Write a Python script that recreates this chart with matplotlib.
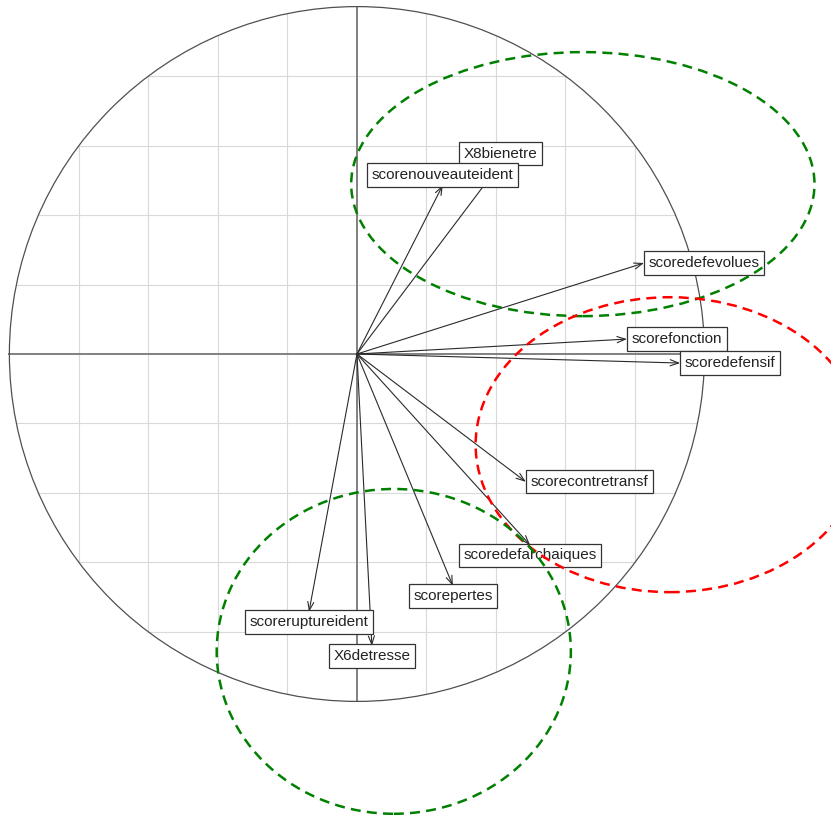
import numpy as np
import matplotlib
matplotlib.use("Agg")
import matplotlib.pyplot as plt
from matplotlib.patches import Ellipse, Circle

# Variable loadings (correlation circle coordinates)
var_names = ["scoredefevolues", "scorefonction", "scoredefensif", "scorecontretransf",
             "scoredefarchaiques", "scorepertes", "X6detresse", "scoreruptureident",
             "X8bienetre", "scorenouveauteident"]
var_x = [0.826, 0.777, 0.930, 0.486, 0.498, 0.276, 0.043, -0.138, 0.412, 0.247]
var_y = [0.262, 0.043, -0.026, -0.368, -0.550, -0.667, -0.840, -0.742, 0.547, 0.486]

# Highlighted groups (dashed ellipses)
ell_cx = [0.650, 0.900, 0.106]
ell_cy = [0.489, -0.261, -0.856]
ell_w = [1.333, 1.117, 1.019]
ell_h = [0.760, 0.849, 0.935]
ell_col = ["#008000", "#ff0000", "#008000"]

grid_steps = [-0.8, -0.6, -0.4, -0.2, 0.2, 0.4, 0.6, 0.8]

fig = plt.figure(figsize=(8.31, 8.23), dpi=100)
ax = fig.add_axes([0, 0, 1, 1])
ax.set_xlim(-1.027, 1.364)
ax.set_ylim(-1.35, 1.019)
ax.axis("off")

# grid clipped to the unit circle
for g in grid_steps:
    h = np.sqrt(1 - g ** 2)
    ax.plot([g, g], [-h, h], color="#d9d9d9", lw=0.8, zorder=1)
    ax.plot([-h, h], [g, g], color="#d9d9d9", lw=0.8, zorder=1)

ax.plot([-1, 1], [0, 0], color="#808080", lw=1.4, zorder=2)
ax.plot([0, 0], [-1, 1], color="#808080", lw=1.4, zorder=2)
ax.add_patch(Circle((0, 0), 1, fill=False, ec="#505050", lw=0.9, zorder=2))

# arrows
for x, y in zip(var_x, var_y):
    ax.annotate("", xy=(x, y), xytext=(0, 0),
                arrowprops=dict(arrowstyle="->,head_length=0.6,head_width=0.22",
                                color="#2a2a2a", lw=0.8, shrinkA=0, shrinkB=0,
                                mutation_scale=10), zorder=3)

# labels placed like ade4's eti.circ
fs = 11
pad = 0.3
off = pad * fs
for i, (name, x, y) in enumerate(zip(var_names, var_x, var_y)):
    if x > y and x > -y:
        ha, va, dx, dy = "left", "center", off, 0
    elif x > y and x <= -y:
        ha, va, dx, dy = "center", "top", 0, -off + 1
    elif x <= y and x <= -y:
        ha, va, dx, dy = "right", "center", -off, 0
    else:
        ha, va, dx, dy = "center", "bottom", 0, off - 1
    ax.annotate(name, xy=(x, y), xytext=(dx, dy), textcoords="offset points",
                ha=ha, va=va, fontsize=fs, family="Liberation Sans", color="#222222",
                bbox=dict(boxstyle="square,pad=%.2f" % pad, fc="white", ec="#333333", lw=0.9),
                zorder=4 + i)

for cx, cy, w, h, c in zip(ell_cx, ell_cy, ell_w, ell_h, ell_col):
    ax.add_patch(Ellipse((cx, cy), w, h, fill=False, ec=c, lw=1.8,
                         linestyle=(0, (4, 2.5)), zorder=20))

fig.savefig("out.png", dpi=100)
